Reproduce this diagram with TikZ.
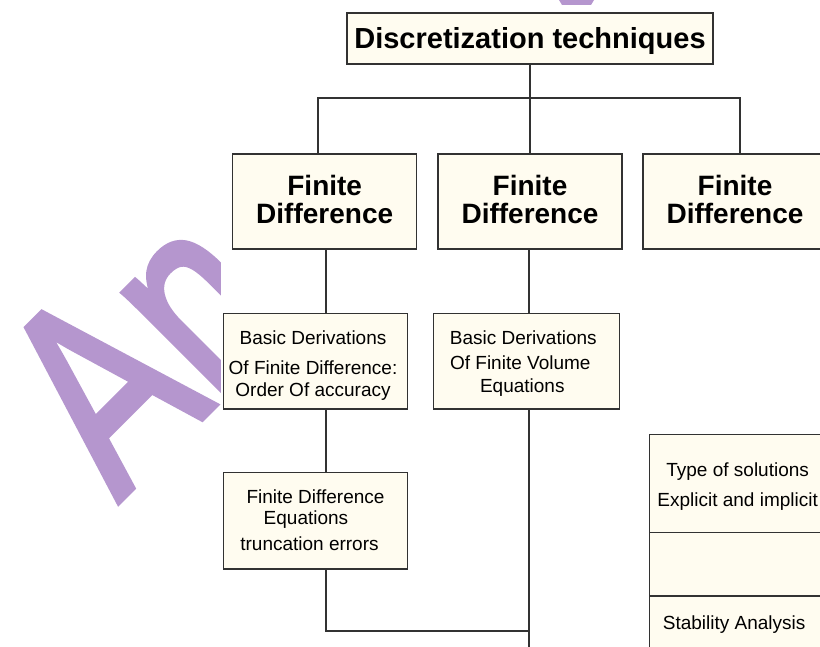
\documentclass[tikz,border=0pt]{standalone}
\usepackage{fontspec}
\setmainfont{Liberation Sans}
\newfontfamily\wmfont[BoldFont={Liberation Sans},BoldFeatures={FakeBold=2.5}]{Liberation Sans}
\definecolor{boxfill}{RGB}{255,252,240}
\definecolor{linecol}{RGB}{50,50,50}
\definecolor{wmcol}{RGB}{181,150,206}
\newcommand\tstrut[1]{\rule{0pt}{#1}}
\newcommand\bstrut[1]{\rule[-#1]{0pt}{#1}}
\newcommand\padr[1]{\rule{#1}{0pt}}
\begin{document}
\begin{tikzpicture}[x=1pt,y=-1pt,
  box/.style={draw=linecol, fill=boxfill, line width=1.2pt, inner sep=0pt, align=center, text=black},
  bigbox/.style={box, font=\bfseries\fontsize{28}{28}\selectfont},
  smallbox/.style={box, font=\fontsize{19}{22.5}\selectfont},
  conn/.style={draw=linecol, line width=1.2pt},
  wm/.style={text=wmcol, inner sep=0pt, font=\wmfont\bfseries\fontsize{272}{272}\selectfont}]
\useasboundingbox (0,0) rectangle (820,647);
\clip (0,0) rectangle (820,647);
% watermark
\node[wm, anchor=base west, rotate=45, xscale=0.76] (wmark) at (118,502) {An};
\fill[white] (221,5) rectangle (830,660);
\fill[wmcol] (559,0) -- (594,0) -- (591,5) -- (562,5) -- cycle;
% boxes
\node[box, font=\bfseries\fontsize{29}{29}\selectfont, minimum width=366pt, minimum height=51pt] (top) at (530,38.5) {\tstrut{25.7pt}Discretization techniques};
\node[bigbox, minimum width=184pt, minimum height=95pt] (fd1) at (324.7,201.5) {Finite\\Difference\bstrut{5.1pt}};
\node[bigbox, minimum width=184pt, minimum height=95pt] (fd2) at (530,201.5) {Finite\\Difference\bstrut{5.1pt}};
\node[bigbox, minimum width=184pt, minimum height=95pt] (fd3) at (735,201.5) {Finite\\Difference\bstrut{5.1pt}};
\node[smallbox, minimum width=184.4pt, minimum height=95.7pt] (bd1) at (315.5,361.2) {\tstrut{22.7pt}Basic Derivations\padr{5pt}\\[7.2pt]Of Finite Difference:\padr{5pt}\\Order Of accuracy\padr{5pt}};
\node[smallbox, minimum width=186pt, minimum height=95.7pt] (bd2) at (526.3,361.2) {\tstrut{18.3pt}Basic Derivations\padr{6pt}\\[3.2pt]Of Finite Volume\padr{12pt}\\Equations\padr{8pt}};
\node[smallbox, minimum width=184.4pt, minimum height=96.7pt] (fde) at (315.5,520.65) {Finite Difference\\[-0.8pt]Equations\padr{19pt}\\[3.2pt]truncation errors\padr{12pt}\bstrut{1.2pt}};
\node[smallbox, minimum width=176.7pt, minimum height=98.4pt] (cell1) at (737.65,483.5) {\tstrut{19.7pt}Type of solutions\\[6.8pt]Explicit and implicit};
\node[smallbox, minimum width=176.7pt, minimum height=63.3pt] (cell2) at (737.65,564.35) {};
\node[smallbox, minimum width=176.7pt, minimum height=58.1pt] (cell3) at (737.65,625.05) {Stability Analysis\padr{7pt}};
% connectors
\coordinate (busL) at (318,98);
\coordinate (busR) at (740,98);
\coordinate (xa) at (326,0);
\coordinate (xb) at (529,0);
\coordinate (join) at (529,631);
\coordinate (tail) at (529,660);
\draw[conn] (top.south) -- (fd2.north);
\draw[conn] (busL |- fd1.north) -- (busL) -- (busR) -- (busR |- fd3.north);
\draw[conn] (xa |- fd1.south) -- (xa |- bd1.north);
\draw[conn] (xa |- bd1.south) -- (xa |- fde.north);
\draw[conn] (xa |- fde.south) |- (join);
\draw[conn] (xb |- fd2.south) -- (xb |- bd2.north);
\draw[conn] (xb |- bd2.south) -- (tail);
\end{tikzpicture}
\end{document}
